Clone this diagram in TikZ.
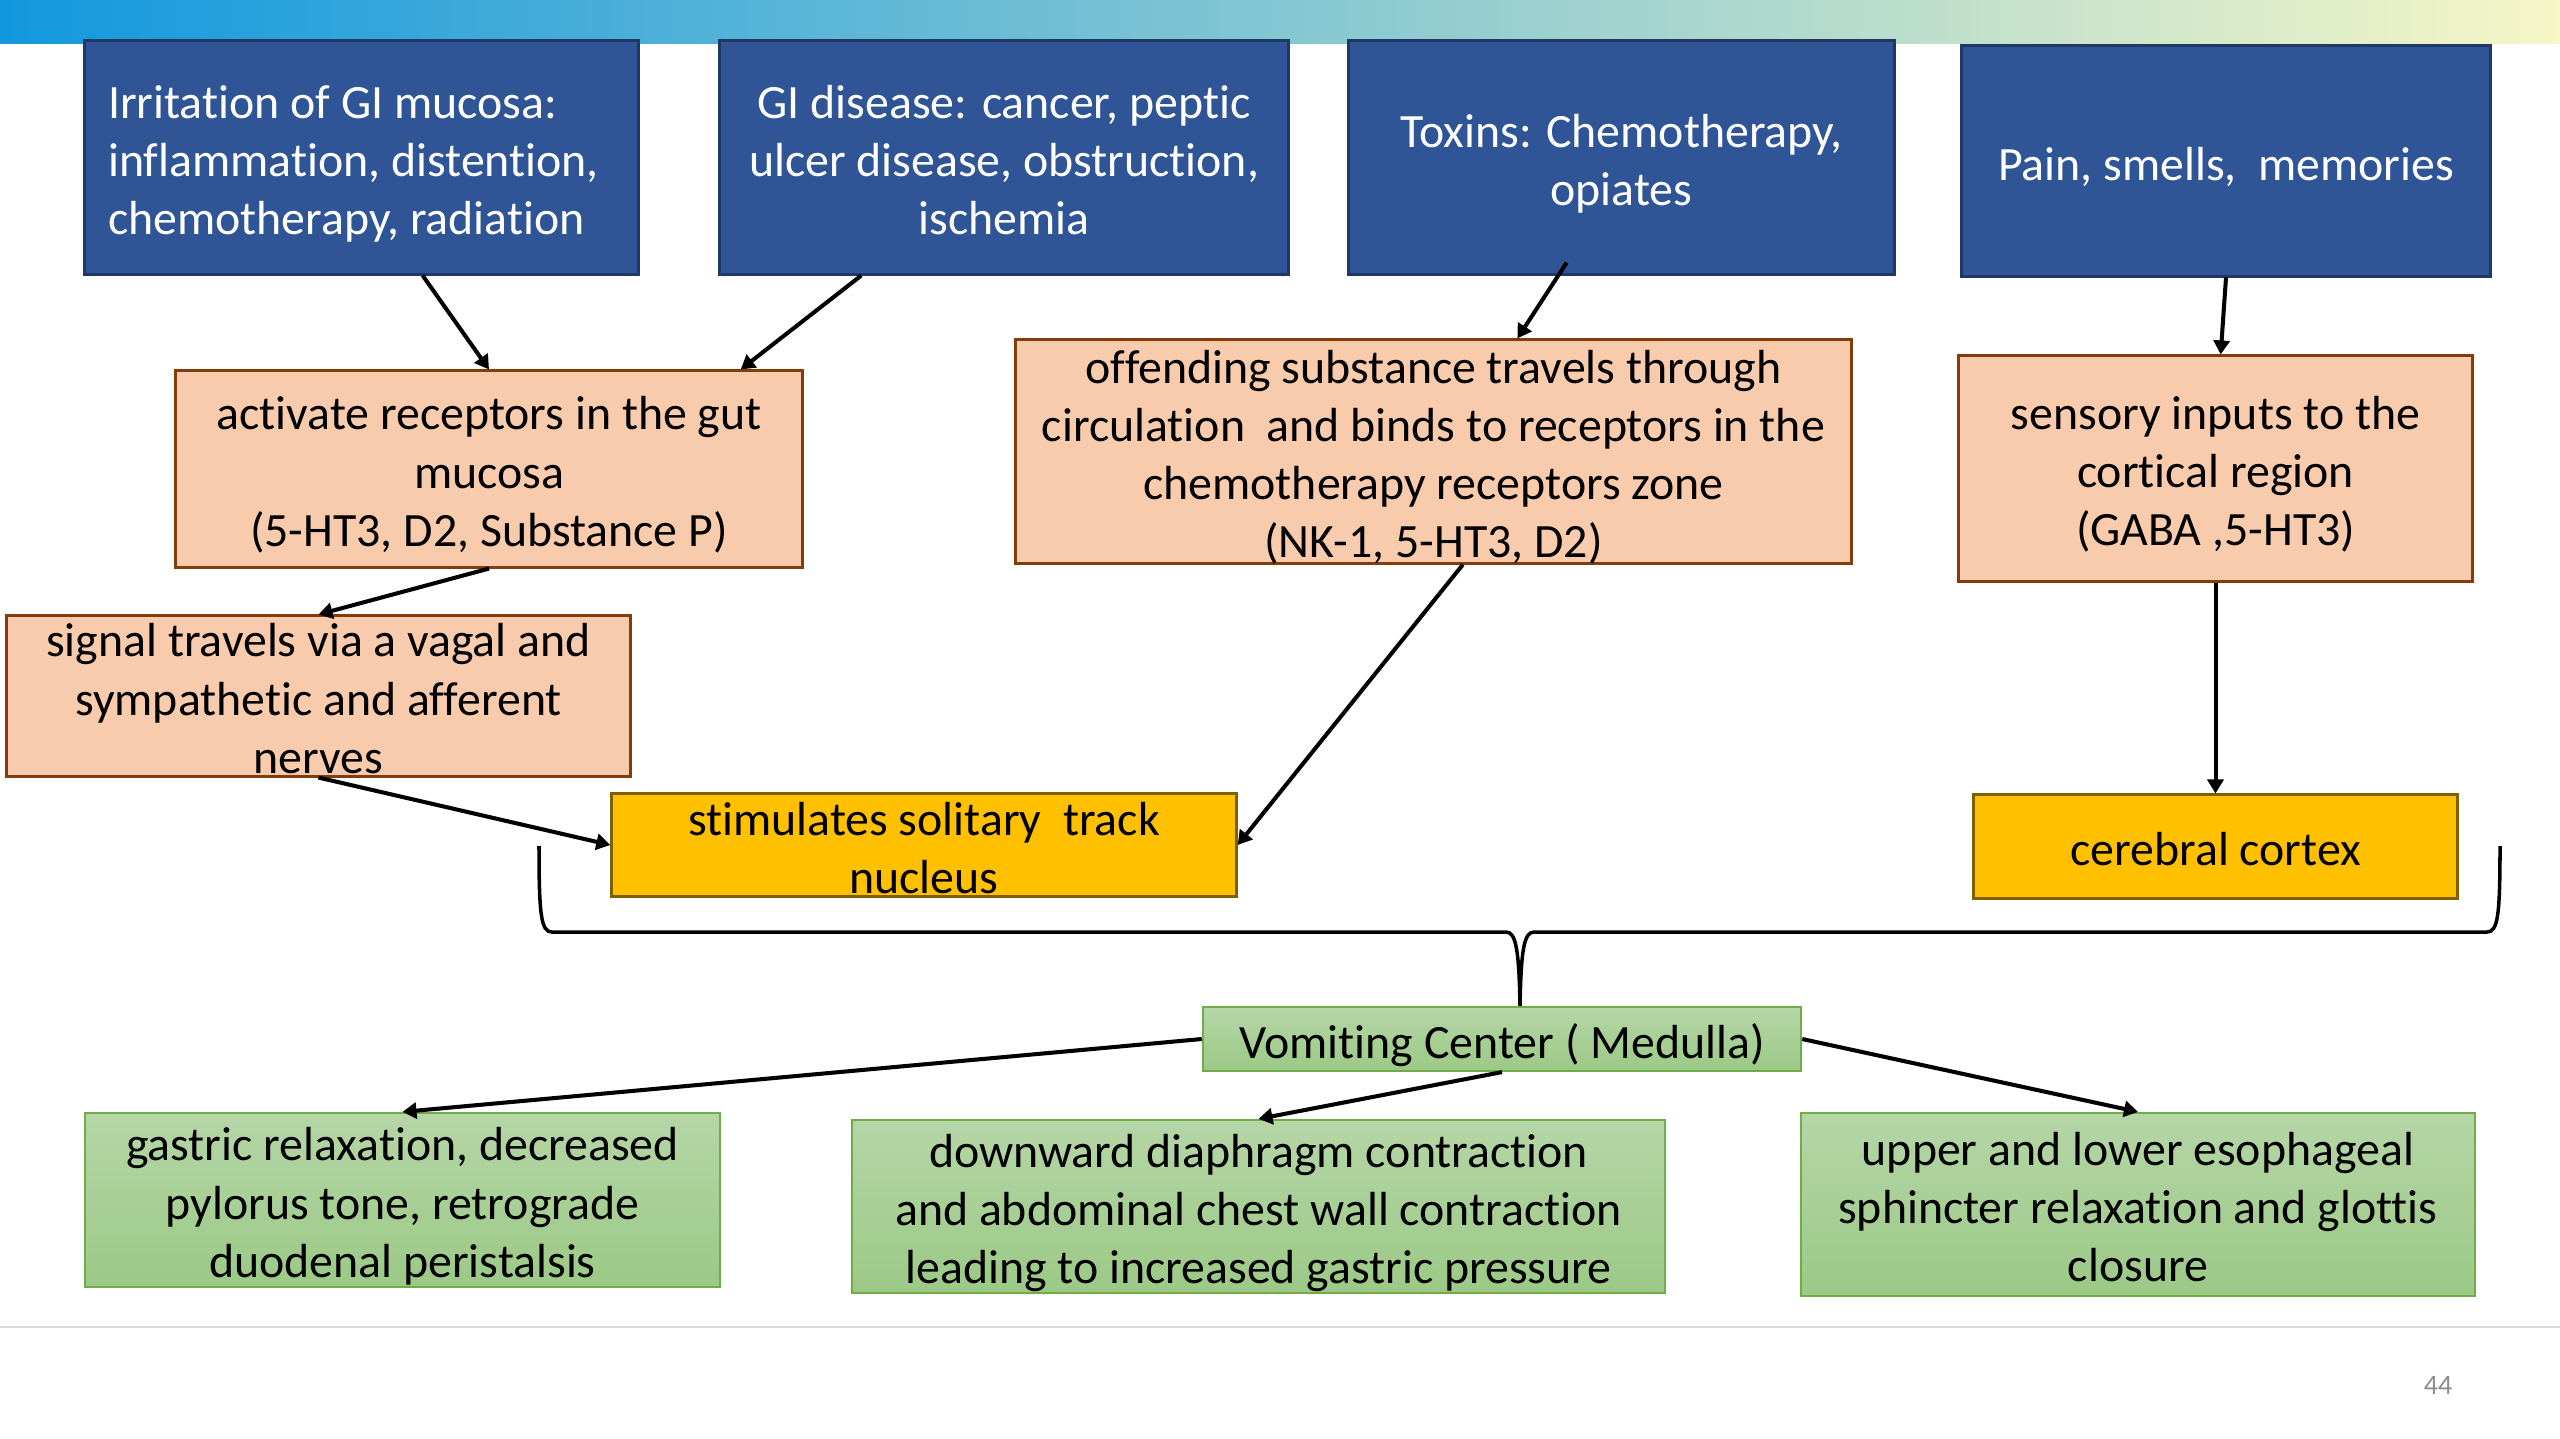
\documentclass[tikz,border=0pt]{standalone}
\usepackage{fontspec}
\setmainfont{Carlito}[Ligatures={NoCommon}]
\usepackage{xcolor}
\usepackage{tikz}
\usetikzlibrary{arrows.meta,calc}
\definecolor{vomblue}{HTML}{2F5597}
\definecolor{vomblueline}{HTML}{1F3864}
\definecolor{vompeach}{HTML}{F8CBAD}
\definecolor{vompeachline}{HTML}{843C0C}
\definecolor{vomamber}{HTML}{FFC000}
\definecolor{vomamberline}{HTML}{7F6000}
\definecolor{vomgreentop}{HTML}{B5D6A7}
\definecolor{vomgreenbot}{HTML}{9CC986}
\definecolor{vomgreenline}{HTML}{70AD47}
\definecolor{barleft}{HTML}{1298DF}
\definecolor{barmid}{HTML}{A8C9D6}
\definecolor{barright}{HTML}{F6F6C6}
\definecolor{pagegray}{HTML}{8C8C8C}
\definecolor{rulegray}{HTML}{D9D9D9}

\newcommand{\boxlines}[2][c]{\raisebox{\dimexpr-0.25em-2.3pt\relax}[0pt][0pt]{\begin{tabular}{@{}#1@{}}#2\end{tabular}}}

\tikzset{
  flowbox/.style={rectangle, inner sep=0pt, line width=0.85pt, font=\fontsize{13.6}{16.5}\selectfont},
  bluebox/.style={flowbox, fill=vomblue, draw=vomblueline, text=white},
  peachbox/.style={flowbox, fill=vompeach, draw=vompeachline},
  amberbox/.style={flowbox, fill=vomamber, draw=vomamberline},
  greenbox/.style={flowbox, top color=vomgreentop, bottom color=vomgreenbot, draw=vomgreenline, line width=0.6pt},
  arr/.style={-{Triangle[length=1.4mm,width=1.6mm]}, line width=1.15pt},
}

\begin{document}
\begin{tikzpicture}[x=0.01cm,y=-0.01cm]
  \useasboundingbox (0,0) rectangle (2560,1438);
  \shade[left color=barleft, middle color=barmid, right color=barright] (0,0) rectangle (2560,43);
  \draw[rulegray, line width=0.6pt] (0,1327) -- (2560,1327);
  \node[text=pagegray, font=\fontsize{8}{9.6}\selectfont] (pg) at (2438,1385) {44};

  \node[bluebox, minimum width=5.53cm, minimum height=2.33cm] (b1) at (361.5,157.5) {\hspace*{-0.16cm}\boxlines[l]{Irritation of GI mucosa:\\ inflammation, distention,\\ chemotherapy, radiation}};
  \node[bluebox, minimum width=5.68cm, minimum height=2.33cm] (b2) at (1004,157.5) {\boxlines{GI disease: cancer, peptic\\ ulcer disease, obstruction,\\ ischemia}};
  \node[bluebox, minimum width=5.45cm, minimum height=2.33cm] (b3) at (1621.5,157.5) {\boxlines{Toxins: Chemotherapy,\\ opiates}};
  \node[bluebox, minimum width=5.28cm, minimum height=2.30cm] (b4) at (2226,161) {\boxlines{Pain, smells,\ \ memories}};

  \node[peachbox, minimum width=6.26cm, minimum height=1.96cm] (p1) at (489,469) {\boxlines{activate receptors in the gut\\ mucosa\\ (5-HT3, D2, Substance P)}};
  \node[peachbox, minimum width=8.35cm, minimum height=2.23cm] (p2) at (1433.5,451.5) {\boxlines{offending substance travels through\\ circulation\ \ and binds to receptors in the\\ chemotherapy receptors zone\\ (NK-1, 5-HT3, D2)}};
  \node[peachbox, minimum width=5.13cm, minimum height=2.25cm] (p3) at (2215.5,468.5) {\boxlines{sensory inputs to the\\ cortical region\\ (GABA ,5-HT3)}};
  \node[peachbox, minimum width=6.23cm, minimum height=1.60cm] (p4) at (318.5,696) {\boxlines{signal travels via a vagal and\\ sympathetic and afferent\\ nerves}};

  \node[amberbox, minimum width=6.24cm, minimum height=1.02cm] (y1) at (924,845) {\boxlines{stimulates solitary\ \ track\\ nucleus}};
  \node[amberbox, minimum width=4.83cm, minimum height=1.03cm] (y2) at (2215.5,846.5) {\boxlines{cerebral cortex}};

  \node[greenbox, minimum width=5.98cm, minimum height=0.64cm] (vc) at (1502,1039) {\boxlines{Vomiting Center ( Medulla)}};
  \node[greenbox, minimum width=6.35cm, minimum height=1.74cm] (g1) at (402.5,1200) {\boxlines{gastric relaxation, decreased\\ pylorus tone, retrograde\\ duodenal peristalsis}};
  \node[greenbox, minimum width=8.13cm, minimum height=1.73cm] (g2) at (1258.5,1206.5) {\boxlines{downward diaphragm contraction\\ and abdominal chest wall contraction\\ leading to increased gastric pressure}};
  \node[greenbox, minimum width=6.74cm, minimum height=1.83cm] (g3) at (2138,1204.5) {\boxlines{upper and lower esophageal\\ sphincter relaxation and glottis\\ closure}};

  \draw[arr] ($(b1.south west)!.61!(b1.south east)$) -- (p1.north);
  \draw[arr] ($(b2.south west)!.25!(b2.south east)$) -- ($(p1.north west)!.9!(p1.north east)$);
  \draw[arr] ($(b3.south west)!.4!(b3.south east)+(0,-13)$) -- ($(p2.north west)!.6!(p2.north east)$);
  \draw[arr] (b4.south) -- ($(p3.north west)!.51!(p3.north east)$);
  \draw[arr] (p1.south) -- (p4.north);
  \draw[arr] (p4.south) -- (y1.west);
  \draw[arr] ($(p2.south west)!.535!(p2.south east)$) -- (y1.east);
  \draw[arr] (p3.south) -- (y2.north);

  \draw[line width=1pt] (539,846) .. controls (539,915) and (541,932) .. (552,932) -- (1506,932)
    .. controls (1516,932) and (1519,950) .. ([xshift=0.18cm]vc.north)
    .. controls (1521,950) and (1524,932) .. (1534,932) -- (2487,932)
    .. controls (2498,932) and (2500,915) .. (2500,846);

  \draw[arr] (vc.west) -- (g1.north);
  \draw[arr] (vc.south) -- (g2.north);
  \draw[arr] (vc.east) -- (g3.north);
\end{tikzpicture}
\end{document}
